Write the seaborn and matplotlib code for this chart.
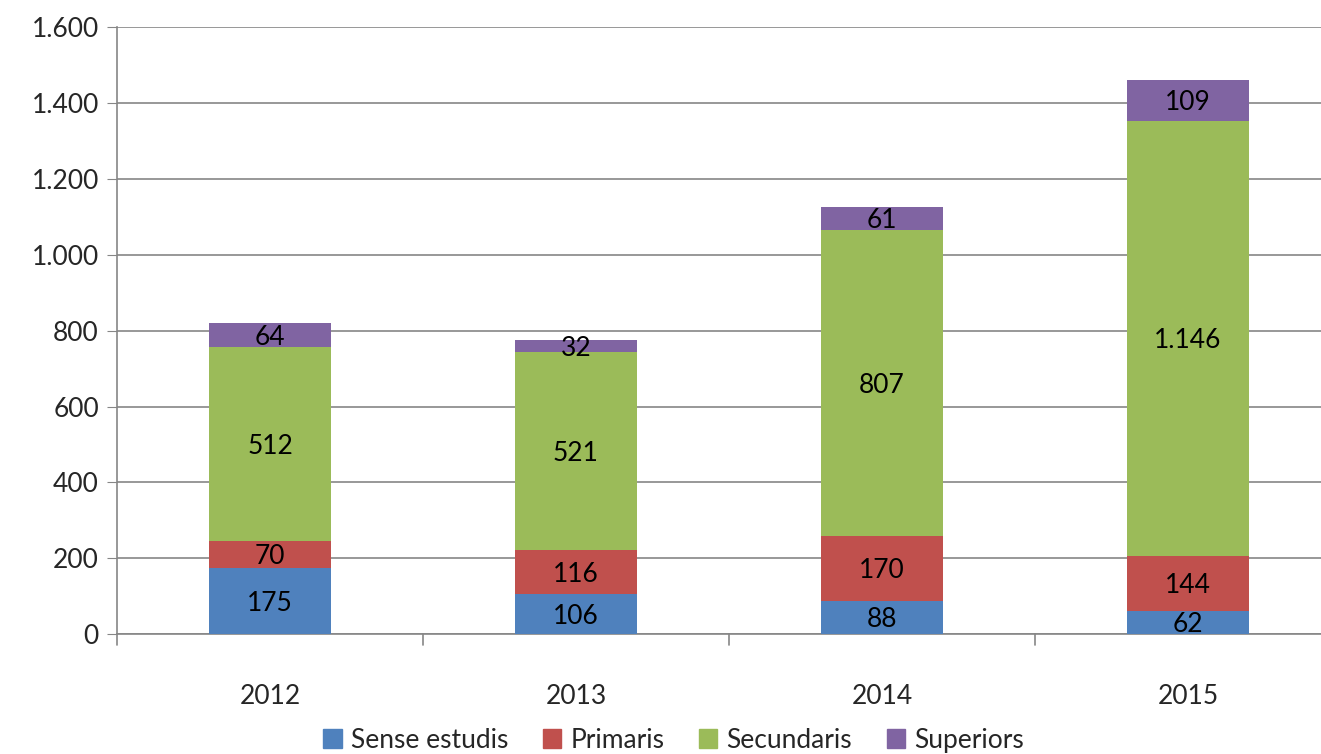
import matplotlib.pyplot as plt
import matplotlib.patches as mpatches
import numpy as np
import pandas as pd
import seaborn as sns

years = ["2012", "2013", "2014", "2015"]
sense_estudis = [175, 106, 88, 62]
primaris = [70, 116, 170, 144]
secundaris = [512, 521, 807, 1146]
superiors = [64, 32, 61, 109]

series = ["Sense estudis", "Primaris", "Secundaris", "Superiors"]
colors = ["#4F81BD", "#C0504D", "#9BBB59", "#8064A2"]

df = pd.DataFrame(
    {"year": years, "Sense estudis": sense_estudis, "Primaris": primaris,
     "Secundaris": secundaris, "Superiors": superiors}
)

sns.set_style("white")
plt.rcParams["font.family"] = ["Lato", "DejaVu Sans"]


def fmt(v):
    return f"{v:,.0f}".replace(",", ".")


fig = plt.figure(figsize=(13.21, 7.54), dpi=100)
ax = fig.add_axes([0.0886, 0.159, 0.9114, 0.805])

cum = df[series].cumsum(axis=1)
# draw cumulative totals from the top down so smaller stacks overlay
for s, c in reversed(list(zip(series, colors))):
    sns.barplot(x=df["year"], y=cum[s], color=c, width=0.4, saturation=1,
                linewidth=0, ax=ax, zorder=3)

for s in series:
    for i, y in enumerate(years):
        v = df.loc[i, s]
        mid = cum.loc[i, s] - v / 2
        ax.text(i, mid - 6, fmt(v), ha="center", va="center", fontsize=19,
                color="black", zorder=4)

ax.set_ylim(0, 1600)
ax.set_xlim(-0.5, 3.435)
ax.set_yticks(range(0, 1601, 200))
ax.set_yticklabels([fmt(t) for t in range(0, 1601, 200)], fontsize=19)
ax.set_xticks(range(4))
ax.set_xticklabels(years, fontsize=19)
ax.tick_params(axis="x", length=0, pad=36)
ax.tick_params(axis="y", length=7, color="#868686", pad=6, left=True)
ax.yaxis.grid(True, color="#868686", linewidth=1.2, zorder=0)
ax.set_axisbelow(True)
ax.set_xlabel("")
ax.set_ylabel("")
for side in ["top", "right"]:
    ax.spines[side].set_visible(False)
for side in ["left", "bottom"]:
    ax.spines[side].set_color("#868686")
    ax.spines[side].set_linewidth(1.2)

# category separator ticks below the x axis
for xb in [-0.5, 0.5, 1.5, 2.5]:
    ax.plot([xb, xb], [0, -0.018], transform=ax.get_xaxis_transform(),
            color="#868686", linewidth=1.2, clip_on=False)

handles = [mpatches.Patch(color=c, label=s) for s, c in zip(series, colors)]
fig.legend(handles=handles, loc="center", bbox_to_anchor=(0.51, 0.018), ncol=4,
           frameon=False, fontsize=19, handlelength=0.7, handleheight=0.7,
           handletextpad=0.35, columnspacing=1.3)

fig.savefig("out.png", dpi=100)
